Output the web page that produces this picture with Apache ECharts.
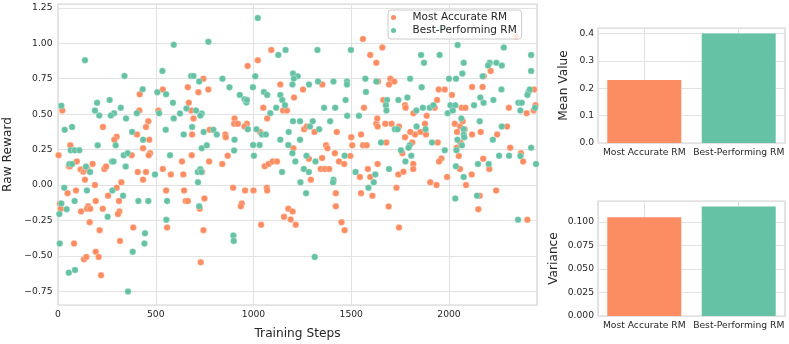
<!DOCTYPE html>
<html><head><meta charset="utf-8">
<script src="https://cdn.jsdelivr.net/npm/echarts@6/dist/echarts.min.js"></script>
<style>html,body{margin:0;padding:0;background:#fff}#c{width:789px;height:344px}</style>
</head><body><div id="c"></div>
<script>
// ---- data ----
const seriesNames = ['Most Accurate RM', 'Best-Performing RM'];
const accuratePoints = [
[744,0.75],[664,0.69],[769,0.674],[536,0.674],[718,0.655],[418,0.64],[669,0.58],[22,0.525],[416,0.525],[513,0.525],[682,0.525],[693,0.47],[462,0.45],[230,0.41],[450,0.41],[776,0.39],[404,0.357],[686,0.357],[300,0.34],[288,0.32],[467,0.32],[435,0.26],[63,0.28],[471,0.225],[464,0.21],[377,0.21],[684,0.21],[3,0.21],
[96,0.167],[55,0.132],[61,0.132],[116,0.11],[130,0.094],[138,0.106],[150,0.113],[177,0.149],[237,0.113],[246,0.13],[408,0.092],[450,0.092],[435,0.038],[536,0.113],[577,0.075],[634,0.167],[641,0.075],[737,0.092],[773,0.167],[138,0.038],[189,0.0],[324,0.019],[300,-0.019],[49,-0.057],[92,-0.038],[10,-0.132],[14,-0.167],[118,-0.186],[154,-0.15],[148,-0.167],[165,-0.167],[193,-0.113],[229,-0.167],[256,-0.075],[312,-0.113],[314,-0.186],[307,-0.205],[553,-0.038],[645,-0.038],[653,-0.113],[664,-0.113],[749,-0.094],[725,-0.167],[162,-0.262],[213,-0.318],[385,-0.3],[558,-0.3],[744,-0.318],[317,-0.394],[82,-0.413],[193,-0.47],[208,-0.507],[133,-0.524],[145,-0.507],[220,-0.637],[730,-0.545],
[1560,1.03],[1091,0.953],[1022,0.88],[1597,0.918],[1628,0.862],[970,0.84],[1137,0.71],[1253,0.674],[1352,0.71],[1637,0.73],[1207,0.617],[1050,0.545],[1151,0.525],[1171,0.525],[1565,0.545],[1070,0.47],[903,0.47],[901,0.432],[920,0.432],[966,0.432],[954,0.413],[856,0.357],[858,0.338],[1034,0.375],[1259,0.394],[1272,0.413],[1312,0.375],[1426,0.375],[1628,0.432],[1635,0.413],[1500,0.338],[1550,0.357],[1204,0.26],[1371,0.28],[1378,0.26],[1505,0.28],[1560,0.28],[1579,0.28],[1416,0.225],[868,0.207],[1351,0.19],
[840,0.149],[1057,0.132],[1077,0.149],[1098,0.167],[1120,0.167],[1283,0.186],[1437,0.167],[1464,0.149],[1495,0.205],[1344,0.113],[1365,0.113],[1387,0.113],[1293,0.038],[1544,0.057],[1585,0.113],[1597,0.057],[1635,0.149],[896,-0.019],[957,-0.038],[1000,-0.038],[1068,-0.019],[1070,-0.038],[940,-0.13],[935,-0.15],[1421,-0.057],[1421,-0.15],[1550,-0.057],[1608,-0.075],[1178,-0.167],[1200,-0.186],[1156,-0.224],[1190,-0.243],[1216,-0.28],[1039,-0.28],[1450,-0.262],[1466,-0.318],
[2343,1.047],[1659,0.97],[2213,0.805],[2178,0.767],[1700,0.75],[1720,0.73],[1693,0.71],[1947,0.674],[1978,0.674],[2118,0.692],[2172,0.692],[2435,0.674],[2015,0.636],[1664,0.60],[1939,0.60],[1775,0.563],[1778,0.545],[1927,0.545],[2065,0.545],[2084,0.545],[2306,0.545],[2442,0.563],[2433,0.526],[1818,0.507],[1886,0.488],[2397,0.507],[1633,0.47],[2029,0.432],[2070,0.45],[2056,0.413],[2080,0.394],[1674,0.432],[1706,0.432],[1744,0.413],[1877,0.432],[1853,0.375],[1826,0.357],[1802,0.375],[1775,0.338],[1882,0.357],[2041,0.375],[2118,0.357],[2162,0.375],[2297,0.413],[2246,0.357],[1679,0.30],[1812,0.30],[1942,0.30],[2039,0.263],[2058,0.30],[2313,0.263],[2368,0.225],[1961,0.188],
[1761,0.225],[1741,0.075],[1767,0.094],[1817,0.149],[1817,0.113],[1949,0.167],[1904,0.019],[1936,0.0],[1990,0.057],[2050,0.205],[2056,0.113],[2116,0.075],[2175,0.186],[2206,0.113],[2379,0.167],[2087,0.0],[1731,-0.019],[2157,-0.075],[2241,-0.038],[2150,-0.17],[1691,-0.151],[1744,-0.3],[2401,-0.245]
];
const bestPoints = [
[138,0.88],[592,0.99],[769,1.01],[534,0.805],[340,0.77],[681,0.77],[693,0.77],[722,0.73],[433,0.675],[508,0.655],[553,0.64],[17,0.56],[200,0.58],[264,0.60],[189,0.525],[588,0.58],[657,0.54],[321,0.545],[287,0.507],[270,0.49],[211,0.49],[403,0.507],[517,0.507],[706,0.525],[735,0.505],[728,0.49],[348,0.47],[592,0.47],[624,0.505],[34,0.39],[72,0.41],[379,0.375],[435,0.32],[551,0.39],[643,0.357],[686,0.41],[745,0.375],[795,0.39],[812,0.357],[203,0.28],[295,0.28],[735,0.26],[761,0.28],[65,0.245],[85,0.245],[109,0.245],[336,0.21],[356,0.225],[573,0.21],
[58,0.149],[72,0.149],[143,0.13],[164,0.092],[276,0.167],[284,0.167],[346,0.13],[496,0.075],[715,0.092],[728,0.111],[733,0.092],[716,0.019],[32,-0.019],[17,-0.13],[148,-0.038],[85,-0.113],[44,-0.17],[7,-0.205],[278,-0.038],[333,-0.075],[254,-0.224],[411,-0.113],[462,-0.113],[558,-0.113],[554,-0.245],[722,-0.15],[445,-0.34],[9,-0.413],[442,-0.413],[382,-0.47],[55,-0.618],[87,-0.6],[358,-0.75],
[1022,1.178],[1164,0.953],[1327,0.953],[1498,0.953],[1127,0.918],[1202,0.786],[1226,0.767],[1206,0.751],[841,0.75],[1009,0.767],[877,0.69],[997,0.69],[1199,0.71],[1284,0.71],[1330,0.73],[1409,0.73],[1478,0.73],[1478,0.71],[1572,0.75],[1628,0.73],[1575,0.657],[930,0.636],[954,0.605],[964,0.582],[966,0.60],[1053,0.657],[1070,0.636],[1137,0.636],[1147,0.60],[1161,0.563],[1116,0.545],[1086,0.507],[1361,0.545],[1418,0.545],[1471,0.60],[1479,0.488],[1539,0.488],[1202,0.45],[1238,0.45],[1303,0.45],[1289,0.413],[1336,0.394],[1392,0.45],[971,0.394],[1015,0.394],[1043,0.357],[1063,0.357],[903,0.32],[1137,0.32],[1180,0.375],[1238,0.32],[998,0.282],[1031,0.282],[1178,0.282],[901,0.243],[1199,0.225],[1271,0.207],[1466,0.207],[1002,0.207],
[1214,0.167],[1317,0.167],[1146,0.092],[1257,0.113],[1283,0.092],[1240,0.019],[1409,0.038],[1407,0.019],[1269,-0.057],[1522,0.092],[1623,0.075],[1615,0.019],[1588,-0.019],[897,-0.356],[899,-0.394],[1313,-0.507],
[1964,1.105],[2044,0.988],[2280,0.97],[1857,0.918],[1952,0.918],[1872,0.862],[2420,0.918],[2075,0.862],[2208,0.862],[2200,0.843],[2242,0.862],[2270,0.843],[2420,0.805],[2068,0.786],[2172,0.767],[1801,0.75],[2000,0.75],[2036,0.75],[1860,0.69],[2268,0.674],[2406,0.655],[2413,0.674],[2401,0.636],[2160,0.617],[1683,0.60],[1677,0.563],[1741,0.60],[1787,0.617],[1680,0.526],[1833,0.526],[1866,0.545],[1901,0.545],[1920,0.563],[2007,0.563],[2032,0.563],[1993,0.507],[2019,0.526],[2128,0.563],[2177,0.58],[2227,0.60],[2355,0.58],[2372,0.58],[2365,0.526],[2440,0.545],[2063,0.47],[2157,0.45],[2270,0.413],[1723,0.394],[1737,0.394],[1834,0.413],[1880,0.394],[2075,0.394],[2075,0.357],[2078,0.338],[1652,0.30],[2224,0.32],[1799,0.28],[1793,0.263],[1754,0.245],[1913,0.30],[2043,0.32],[2066,0.28],[1807,0.207],[1978,0.245],[2038,0.245],[2256,0.207],[2307,0.207],[2365,0.205],[2420,0.263],
[1777,0.167],[1693,0.113],[2035,0.132],[2075,0.057],[2148,0.149],[2203,0.149],[2445,0.149],[2032,-0.094],[2143,-0.075],[2353,-0.245]
];
const meanValues = [0.23, 0.3997];
const varianceValues = [0.105, 0.1165];

// ---- styles ----
const COLORS = ['#fc8d62', '#66c2a5'];
const TXT = '#262626';
const GRIDC = '#e2e2e2';
const BORDER = '#d4d4d4';
const FONT = 'DejaVu Sans';

function fmt(v, step, dec) {
  if (Math.abs(v / step - Math.round(v / step)) > 1e-6) return '';
  const s = Math.abs(v).toFixed(dec);
  return (v < -1e-9 ? '\u2212' : '') + s;
}
function valueAxisLabel(step, dec, margin) {
  return { formatter: v => fmt(v, step, dec), margin: margin, fontSize: 9.2, color: TXT, fontFamily: FONT,
           showMinLabel: true, showMaxLabel: false };
}
const split = { show: true, lineStyle: { color: GRIDC, width: 1 } };
const gridBase = { show: true, borderColor: BORDER, borderWidth: 1.2, backgroundColor: 'transparent', containLabel: false, outerBoundsMode: 'none' };

const chart = echarts.init(document.getElementById('c'), null, { renderer: 'canvas' });
chart.setOption({
  animation: false,
  textStyle: { fontFamily: FONT, color: TXT },
  grid: [
    Object.assign({ left: 58, top: 4, width: 479, height: 301 }, gridBase),
    Object.assign({ left: 598, top: 28, width: 187, height: 115 }, gridBase),
    Object.assign({ left: 598, top: 201, width: 187, height: 115 }, gridBase)
  ],
  legend: {
    data: seriesNames, orient: 'vertical', left: 388, top: 10,
    itemWidth: 28, itemHeight: 7, itemGap: 2, padding: [2, 5, 3, 1],
    backgroundColor: 'rgba(255,255,255,0.8)', borderColor: '#cccccc', borderWidth: 1, borderRadius: 3,
    textStyle: { fontSize: 10.5, color: TXT, fontFamily: FONT }
  },
  xAxis: [
    { gridIndex: 0, type: 'value', min: 0, max: 2450, interval: 500,
      axisLine: { show: false }, axisTick: { show: false }, splitLine: split,
      axisLabel: { formatter: v => (v % 500 === 0 ? String(v) : ''), margin: 5, fontSize: 9.2, color: TXT, fontFamily: FONT, showMaxLabel: false },
      name: 'Training Steps', nameLocation: 'middle', nameGap: 23,
      nameTextStyle: { fontSize: 12.2, color: TXT, fontFamily: FONT } },
    { gridIndex: 1, type: 'value', min: -0.49, max: 1.49, minInterval: 1, maxInterval: 1,
      axisLine: { show: false }, axisTick: { show: false }, splitLine: split,
      axisLabel: { formatter: v => (Math.abs(v - Math.round(v)) < 1e-6 && seriesNames[Math.round(v)]) || '', margin: 5, fontSize: 9.2, color: TXT, fontFamily: FONT, showMinLabel: false, showMaxLabel: false } },
    { gridIndex: 2, type: 'value', min: -0.49, max: 1.49, minInterval: 1, maxInterval: 1,
      axisLine: { show: false }, axisTick: { show: false }, splitLine: split,
      axisLabel: { formatter: v => (Math.abs(v - Math.round(v)) < 1e-6 && seriesNames[Math.round(v)]) || '', margin: 5, fontSize: 9.2, color: TXT, fontFamily: FONT, showMinLabel: false, showMaxLabel: false } }
  ],
  yAxis: [
    { gridIndex: 0, type: 'value', min: -0.846, max: 1.277, minInterval: 0.25, maxInterval: 0.25, splitNumber: 8,
      axisLine: { show: false }, axisTick: { show: false }, splitLine: split,
      axisLabel: Object.assign(valueAxisLabel(0.25, 2, 5.5), { showMinLabel: false }),
      name: 'Raw Reward', nameLocation: 'middle', nameGap: 39,
      nameTextStyle: { fontSize: 12.2, color: TXT, fontFamily: FONT } },
    { gridIndex: 1, type: 'value', min: 0, max: 0.4197, interval: 0.1,
      axisLine: { show: false }, axisTick: { show: false }, splitLine: split,
      axisLabel: valueAxisLabel(0.1, 1, 4),
      name: 'Mean Value', nameLocation: 'middle', nameGap: 28,
      nameTextStyle: { fontSize: 12.2, color: TXT, fontFamily: FONT } },
    { gridIndex: 2, type: 'value', min: 0, max: 0.1223, interval: 0.025,
      axisLine: { show: false }, axisTick: { show: false }, splitLine: split,
      axisLabel: valueAxisLabel(0.025, 3, 4),
      name: 'Variance', nameLocation: 'middle', nameGap: 38,
      nameTextStyle: { fontSize: 12.2, color: TXT, fontFamily: FONT } }
  ],
  series: [
    { name: seriesNames[0], type: 'scatter', xAxisIndex: 0, yAxisIndex: 0, data: accuratePoints,
      symbol: 'circle', symbolSize: 6.5, itemStyle: { color: COLORS[0], borderColor: '#ffffff', borderWidth: 0.3, opacity: 1 } },
    { name: seriesNames[1], type: 'scatter', xAxisIndex: 0, yAxisIndex: 0, data: bestPoints,
      symbol: 'circle', symbolSize: 6.5, itemStyle: { color: COLORS[1], borderColor: '#ffffff', borderWidth: 0.3, opacity: 1 } },
    { type: 'bar', xAxisIndex: 1, yAxisIndex: 1, barWidth: 74,
      data: meanValues.map((v, i) => ({ value: [i, v], itemStyle: { color: COLORS[i] } })) },
    { type: 'bar', xAxisIndex: 2, yAxisIndex: 2, barWidth: 74,
      data: varianceValues.map((v, i) => ({ value: [i, v], itemStyle: { color: COLORS[i] } })) }
  ]
});
</script></body></html>
